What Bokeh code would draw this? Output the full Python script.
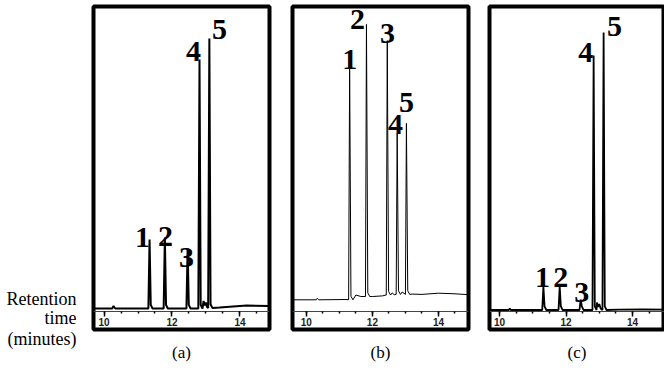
from bokeh.plotting import figure
from bokeh.layouts import row
from bokeh.models import Range1d, SingleIntervalTicker, Title, ColumnDataSource
from bokeh.core.properties import value
from bokeh.embed import file_html
from bokeh.resources import INLINE

# ---------------- data ----------------
peak_names = ["1", "2", "3", "4", "5"]
axis_words = ["Retention", "time", "(minutes)"]
captions = ["(a)", "(b)", "(c)"]

# panel (a)
a_times = [11.34, 11.79, 12.46, 12.81, 13.10]
a_heights = [24.0, 24.7, 21.0, 84.0, 91.0]
a_feet = [1.0, 1.0, 1.0, 1.0, 1.2]
a_base_x = [9.69, 10.24, 10.28, 10.33, 11.1, 12.93, 12.97, 13.0, 13.03, 13.4, 14.2, 14.87]
a_base_y = [1.0, 1.0, 1.8, 1.0, 1.0, 3.5, 2.0, 3.0, 1.5, 1.3, 2.0, 1.8]
a_lab_x = [11.13, 11.81, 12.43, 12.63, 13.40]
a_lab_y = [24.7, 25.0, 18.0, 86.7, 94.0]

# panel (b)
b_times = [11.31, 11.82, 12.45, 12.75, 13.03]
b_heights = [81.0, 95.7, 90.3, 59.3, 62.7]
b_feet = [3.9, 5.0, 5.5, 5.7, 5.7]
b_base_x = [9.58, 10.3, 10.33, 10.37, 11.2, 11.5, 11.65, 12.0, 12.3, 12.6, 12.66, 12.9, 13.2, 13.5, 14.0, 14.5, 14.91]
b_base_y = [3.9, 3.9, 4.4, 3.9, 4.0, 5.5, 5.0, 5.0, 5.2, 6.2, 5.6, 6.5, 5.8, 5.7, 6.1, 5.9, 5.6]
b_lab_x = [11.31, 11.55, 12.46, 12.70, 13.03]
b_lab_y = [84.0, 97.3, 92.7, 62.3, 69.7]

# panel (c)
c_times = [11.32, 11.81, 12.44, 12.83, 13.13]
c_heights = [8.3, 8.3, 4.0, 85.3, 93.0]
c_feet = [0.5, 0.5, 0.5, 0.5, 0.5]
c_base_x = [9.7, 10.28, 10.31, 10.34, 11.0, 12.93, 12.96, 13.0, 13.04, 13.6, 14.3, 14.96]
c_base_y = [0.5, 0.5, 1.0, 0.5, 0.5, 3.0, 1.5, 2.5, 1.0, 0.6, 0.7, 0.6]
c_lab_x = [11.29, 11.84, 12.47, 12.59, 13.46]
c_lab_y = [11.3, 11.3, 6.3, 86.3, 95.0]

SERIF = "Liberation Serif"
SANS = "Liberation Sans"


def trace(base_x, base_y, times, heights, feet, wl, wr):
    pts = list(zip(base_x, base_y))
    for t, h, f in zip(times, heights, feet):
        pts += [(t - wl, f), (t, h), (t + wr, f + 1.2), (t + 2.5 * wr, f)]
    pts.sort()
    xs = [p[0] for p in pts]
    ys = [p[1] for p in pts]
    return xs, ys


def panel(width, mbl, mbr, xr, yr, tr, lw, labx, laby, caption):
    p = figure(width=width, height=372, output_backend="svg", toolbar_location=None,
               title=None, x_range=Range1d(*xr), y_range=Range1d(*yr),
               y_axis_location=None,
               min_border_left=mbl, min_border_right=mbr, min_border_top=6,
               min_border_bottom=372 - 329, background_fill_color="white",
               border_fill_color="white")
    p.outline_line_color = "black"
    p.outline_line_width = 4
    p.outline_line_alpha = 1
    p.grid.visible = False
    ax = p.xaxis[0]
    ax.fixed_location = 0
    ax.ticker = SingleIntervalTicker(interval=2, num_minor_ticks=4)
    ax.axis_line_color = "#444444"
    ax.axis_line_width = 1
    ax.major_tick_out = 5
    ax.major_tick_in = 0
    ax.minor_tick_out = 2
    ax.minor_tick_in = 0
    ax.major_tick_line_color = "black"
    ax.minor_tick_line_color = "black"
    ax.major_tick_line_width = 1.5
    ax.minor_tick_line_width = 1.5
    ax.major_label_text_font = SANS
    ax.major_label_text_font_size = "10px"
    ax.major_label_text_font_style = "bold"
    ax.major_label_text_color = "#222222"
    ax.major_label_standoff = 1
    xs, ys = trace(*tr)
    p.line(xs, ys, line_color="black", line_width=lw)
    src = ColumnDataSource(dict(x=labx, y=laby, t=peak_names))
    p.text(x="x", y="y", text="t", source=src, text_font=value(SERIF),
           text_font_size="30px", text_font_style="bold", text_align="center",
           text_baseline="middle", text_color="black")
    p.add_layout(Title(text=caption, align="center", text_font=SERIF,
                       text_font_size="17px", text_font_style="normal",
                       text_color="black", standoff=22, offset=0), "below")
    return p


# left column with the axis caption (frame aligned with the panels: 6..329 px)
pl = figure(width=81, height=372, output_backend="svg", toolbar_location=None,
            title=None, x_range=Range1d(0, 76), y_range=Range1d(329, 6),
            x_axis_location=None, y_axis_location=None,
            min_border_left=0, min_border_right=5, min_border_top=6,
            min_border_bottom=43, outline_line_color=None)
pl.grid.visible = False
pl.text(x=[76, 76], y=[298, 317], text=axis_words[:2], text_font=value(SERIF),
        text_font_size="18px", text_align="right", text_baseline="middle",
        text_color="black")
pl.add_layout(Title(text=axis_words[2], align="right", text_font=SERIF,
                    text_font_size="18px", text_font_style="normal",
                    text_color="black", standoff=-6, offset=0), "below")

pa = panel(200, 12, 12, (9.69, 14.87), (-6.0, 101.67),
           (a_base_x, a_base_y, a_times, a_heights, a_feet, 0.035, 0.035), 2.0,
           a_lab_x, a_lab_y, captions[0])

pb = panel(197, 11, 10, (9.58, 14.91), (-6.0, 101.67),
           (b_base_x, b_base_y, b_times, b_heights, b_feet, 0.03, 0.04), 1.0,
           b_lab_x, b_lab_y, captions[1])

pc = panel(186, 11, 0, (9.7, 14.96), (-6.0, 101.67),
           (c_base_x, c_base_y, c_times, c_heights, c_feet, 0.035, 0.035), 1.8,
           c_lab_x, c_lab_y, captions[2])

layout = row(pl, pa, pb, pc)
open("out.html", "w").write(file_html(layout, INLINE))
